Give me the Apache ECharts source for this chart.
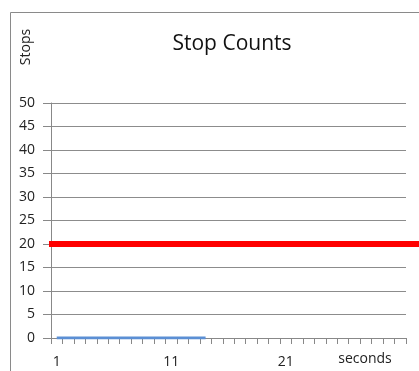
<!DOCTYPE html>
<html><head><meta charset="utf-8">
<script src="https://cdn.jsdelivr.net/npm/echarts@6/dist/echarts.min.js"></script>
<style>html,body{margin:0;padding:0;background:#fff}#c{width:419px;height:371px}</style>
</head><body><div id="c"></div>
<script>
const seconds = ['1','2','3','4','5','6','7','8','9','10','11','12','13','14','15','16','17','18','19','20','21','22','23','24','25','26','27','28','29','30','31'];
const stopCounts = [0,0,0,0,0,0,0,0,0,0,0,0,0,0];
const stopLimit = 20;
const yMin = 0, yMax = 50, yStep = 5;

const font = '"Open Sans", sans-serif';
const chart = echarts.init(document.getElementById('c'));
chart.setOption({
  animation: false,
  title: { text: 'Stop Counts', left: 227, textAlign: 'center', top: 29,
    textStyle: { fontFamily: font, fontSize: 21, fontWeight: 'normal', color: '#111' } },
  graphic: [
    { type: 'rect', shape: { x: 10.5, y: 12.5, width: 430, height: 380 },
      style: { fill: null, stroke: '#8a8a8a', lineWidth: 1 }, silent: true },
    { type: 'text', x: 26, y: 47, rotation: Math.PI / 2,
      style: { text: 'Stops', font: '14px ' + font, fill: '#222', textAlign: 'center', textVerticalAlign: 'middle' } },
    { type: 'text', x: 365, y: 359,
      style: { text: 'seconds', font: '14px ' + font, fill: '#222', textAlign: 'center', textVerticalAlign: 'middle' } }
  ],
  grid: [
    { left: 51, right: 13, top: 103, bottom: 33 },
    { left: 49, right: 0, top: 103, bottom: 33 }
  ],
  xAxis: [
    { type: 'category', gridIndex: 0, data: seconds, boundaryGap: true,
      axisLine: { lineStyle: { color: '#888', width: 1 } },
      axisTick: { show: true, interval: 0, length: 6, lineStyle: { color: '#888' } },
      axisLabel: { interval: (i) => i % 10 === 0 && i < 30, margin: 17,
        fontFamily: font, fontSize: 14, color: '#222' } },
    { type: 'value', gridIndex: 1, min: 0, max: 1, show: false }
  ],
  yAxis: [
    { type: 'value', gridIndex: 0, min: yMin, max: yMax, interval: yStep,
      axisLine: { show: true, lineStyle: { color: '#888' } },
      axisTick: { show: true, length: 8, lineStyle: { color: '#888' } },
      splitLine: { lineStyle: { color: '#8c8c8c', width: 1 } },
      axisLabel: { margin: 16, fontFamily: font, fontSize: 14, color: '#222' } },
    { type: 'value', gridIndex: 1, min: yMin, max: yMax, show: false }
  ],
  series: [
    { type: 'line', xAxisIndex: 0, yAxisIndex: 0, data: stopCounts, showSymbol: false,
      lineStyle: { color: '#5B8FD4', width: 3 }, z: 3 },
    { type: 'line', xAxisIndex: 1, yAxisIndex: 1, data: [[0, stopLimit], [1, stopLimit]],
      showSymbol: false, lineStyle: { color: '#FF0000', width: 6 }, z: 4 }
  ]
});
</script></body></html>
